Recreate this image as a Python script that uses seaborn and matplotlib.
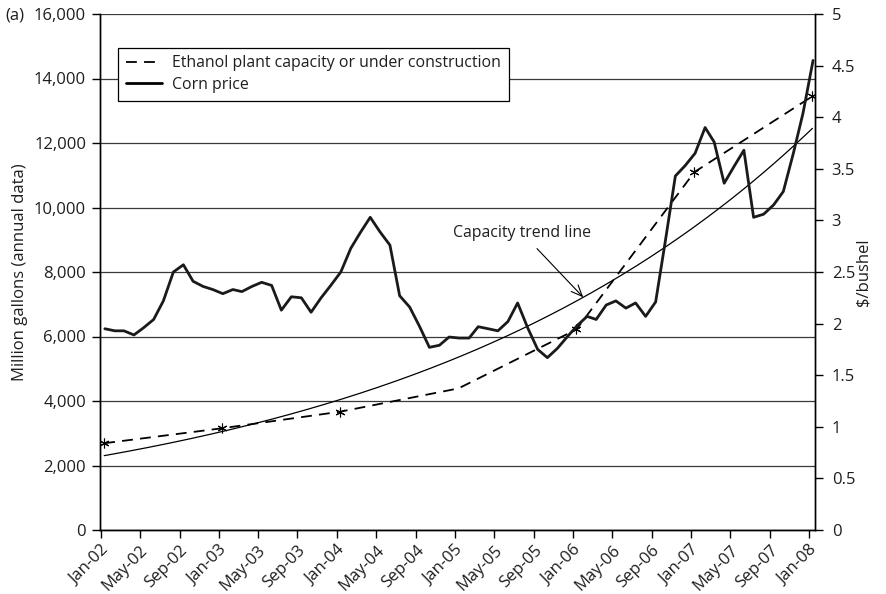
#!/usr/bin/env python
import numpy as np
import pandas as pd
import matplotlib
matplotlib.use("Agg")
import matplotlib.pyplot as plt
import matplotlib.dates as mdates
from matplotlib.lines import Line2D
from matplotlib.ticker import FuncFormatter, MultipleLocator
import seaborn as sns

# Monthly corn price ($/bushel), Jan-02 .. Jan-08
CORN_START = "2002-01-01"
CORN_PRICE = [
    1.95, 1.93, 1.93, 1.89, 1.96, 2.04, 2.22, 2.50, 2.57, 2.41, 2.36, 2.33,   # 2002
    2.29, 2.33, 2.31, 2.36, 2.40, 2.37, 2.13, 2.26, 2.25, 2.11, 2.25, 2.37,   # 2003
    2.50, 2.73, 2.88, 3.03, 2.89, 2.76, 2.27, 2.16, 1.97, 1.77, 1.79, 1.87,   # 2004
    1.86, 1.86, 1.97, 1.95, 1.93, 2.02, 2.20, 1.96, 1.75, 1.67, 1.76, 1.87,   # 2005
    1.98, 2.07, 2.04, 2.18, 2.22, 2.15, 2.20, 2.07, 2.21, 2.80, 3.43, 3.53,   # 2006
    3.65, 3.90, 3.76, 3.36, 3.52, 3.68, 3.03, 3.06, 3.15, 3.28, 3.65, 4.04,   # 2007
    4.55,                                                                     # Jan-08
]

# Annual ethanol plant capacity (million gallons)
CAP_YEARS = [2002, 2003, 2004, 2005, 2006, 2007, 2008]
CAP_VALUES = [2690, 3155, 3668, 4390, 6220, 11100, 13450]
CAP_MARKED = [0, 1, 2, 4, 5, 6]   # Jan-05 point carries no asterisk in the original

LEGEND_LABELS = ["Ethanol plant capacity or under construction", "Corn price"]
TICK_DATES = pd.date_range("2002-01-01", "2008-01-01", freq="4MS")

# observations sit a little after the first of the month
corn_dates = pd.date_range(CORN_START, periods=len(CORN_PRICE), freq="MS") + pd.Timedelta(days=12)
cap_dates = pd.to_datetime([f"{y}-01-01" for y in CAP_YEARS]) + pd.Timedelta(days=10)

corn_df = pd.DataFrame({"date": corn_dates, "price": CORN_PRICE})
cap_df = pd.DataFrame({"date": cap_dates, "capacity": CAP_VALUES})

# exponential trend line fitted to the capacity data
cap_num = mdates.date2num(cap_df["date"])
slope, icpt = np.polyfit(cap_num, np.log(cap_df["capacity"]), 1)
trend_num = np.linspace(cap_num[0], cap_num[-1], 200)
trend_df = pd.DataFrame({"date": mdates.num2date(trend_num), "capacity": np.exp(icpt + slope * trend_num)})

sns.set_theme(style="white")
plt.rcParams["font.family"] = ["Open Sans", "DejaVu Sans"]
plt.rcParams["font.size"] = 12
TXT = "#1e1e1e"

fig = plt.figure(figsize=(8.87, 5.94), dpi=100)
ax1 = fig.add_axes([100 / 887, 1 - 530 / 594, 715 / 887, 516 / 594])
ax2 = ax1.twinx()

# left axis: capacity and trend
sns.lineplot(data=trend_df, x="date", y="capacity", ax=ax1, color="black", lw=0.9)
sns.lineplot(data=cap_df, x="date", y="capacity", ax=ax1, color="black", lw=1.3,
             dashes=False, marker=(6, 2, 0), markersize=7, markeredgewidth=0.8,
             markeredgecolor="black", markevery=CAP_MARKED)
ax1.lines[-1].set_dashes([6, 4])

# right axis: corn price
sns.lineplot(data=corn_df, x="date", y="price", ax=ax2, color="#1a1a1a", lw=2.0)

ax1.set_xlim(pd.Timestamp("2001-12-29"), pd.Timestamp("2008-01-19"))
ax1.set_ylim(0, 16000)
ax2.set_ylim(0, 5)
ax1.yaxis.set_major_locator(MultipleLocator(2000))
ax2.yaxis.set_major_locator(MultipleLocator(0.5))
ax1.yaxis.set_major_formatter(FuncFormatter(lambda v, p: f"{v:,.0f}"))
ax2.yaxis.set_major_formatter(FuncFormatter(lambda v, p: f"{v:g}"))

ax1.set_xticks(TICK_DATES)
ax1.set_xticklabels([d.strftime("%b-%y") for d in TICK_DATES], rotation=45,
                    ha="right", va="top", rotation_mode="anchor")

ax1.grid(axis="y", color="#3a3a3a", lw=0.9)
ax1.set_axisbelow(True)
for ax in (ax1, ax2):
    ax.spines["top"].set_visible(False)
    for s in ("left", "right", "bottom"):
        ax.spines[s].set_color("black")
        ax.spines[s].set_linewidth(1.0)
    ax.tick_params(direction="out", length=6, width=1, color="black", labelsize=12,
                   labelcolor=TXT)
ax1.tick_params(axis="x", bottom=True, pad=3)
ax1.tick_params(axis="y", left=True, pad=4)
ax2.tick_params(axis="y", right=True, pad=6)

ax1.set_xlabel("")
ax2.set_xlabel("")
ax1.set_ylabel("Million gallons (annual data)", fontsize=12, color=TXT, labelpad=4)
ax2.set_ylabel(r"\$/bushel", fontsize=12, color=TXT, labelpad=0)

# annotation for the trend line
target = pd.Timestamp("2006-02-01")
t_num = mdates.date2num(target)
ax1.annotate("Capacity trend line", xy=(target, np.exp(icpt + slope * t_num)),
             xytext=(pd.Timestamp("2005-07-28"), 9200), ha="center", va="center",
             fontsize=11.4, color=TXT,
             arrowprops=dict(arrowstyle="->,head_length=0.7,head_width=0.3", lw=0.8,
                             color="black", shrinkA=4, shrinkB=0))

handles = [Line2D([], [], color="black", lw=1.3, dashes=[6, 4]),
           Line2D([], [], color="black", lw=2.0)]
leg = ax2.legend(handles, LEGEND_LABELS, loc="upper left", bbox_to_anchor=(0.025, 0.935),
                 fontsize=11.4, frameon=True, fancybox=False, framealpha=1,
                 edgecolor="black", handlelength=2.3, handletextpad=0.6,
                 borderpad=0.5, labelspacing=0.35, borderaxespad=0)
leg.get_frame().set_linewidth(0.9)
for t in leg.get_texts():
    t.set_color(TXT)

fig.text(5 / 887, 1 - 15 / 594, "(a)", fontsize=12, color=TXT, va="center")

fig.savefig("out.png", dpi=100)
